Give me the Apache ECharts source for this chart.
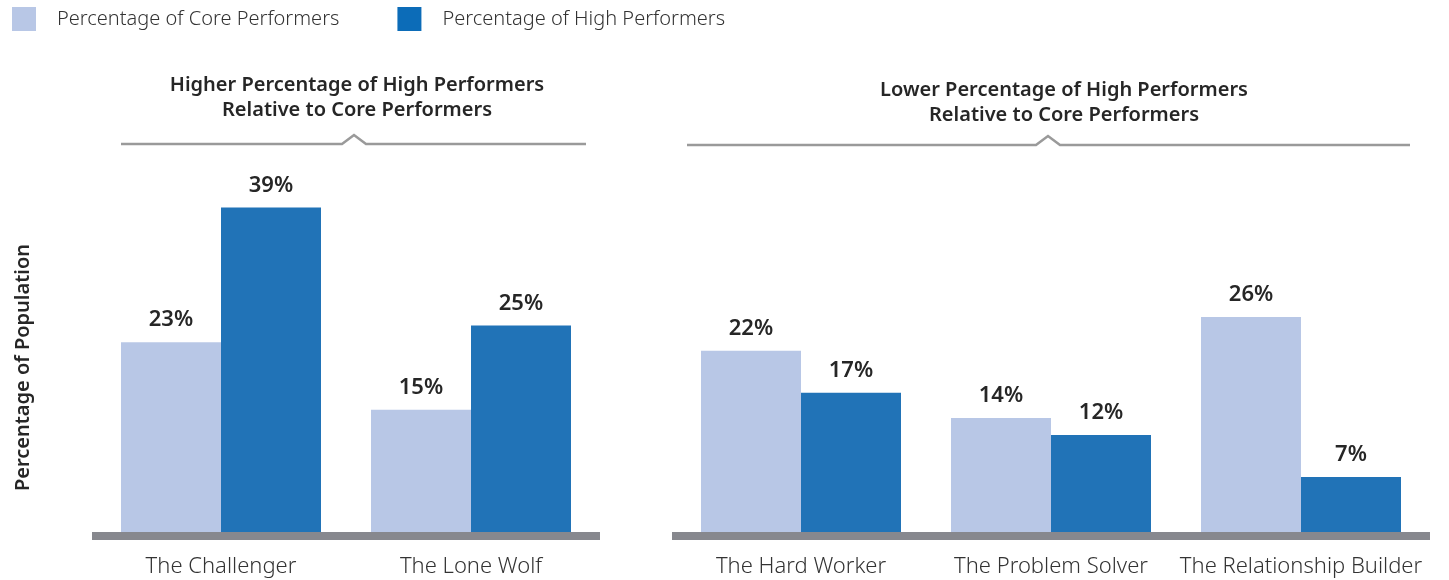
<!DOCTYPE html>
<html>
<head>
<meta charset="utf-8">
<script src="https://cdn.jsdelivr.net/npm/echarts@6/dist/echarts.min.js"></script>
<style>
  html, body { margin: 0; padding: 0; background: #ffffff; }
  #chart { width: 1449px; height: 580px; }
</style>
</head>
<body>
<div id="chart"></div>
<script>
// Performer profiles split into two groups
const higherGroupCategories = ['The Challenger', 'The Lone Wolf'];
const lowerGroupCategories = ['The Hard Worker', 'The Problem Solver', 'The Relationship Builder'];

// Share of each population (percent)
const coreHigherGroup = [23, 15];
const highHigherGroup = [39, 25];
const coreLowerGroup = [22, 14, 26];
const highLowerGroup = [17, 12, 7];

const seriesNames = ['Percentage of Core Performers', 'Percentage of High Performers'];
const groupTitles = [
  'Higher Percentage of High Performers\nRelative to Core Performers',
  'Lower Percentage of High Performers\nRelative to Core Performers'
];
const yAxisTitle = 'Percentage of Population';

const CORE_COLOR = '#b8c7e6';
const HIGH_COLOR = '#2173b7';
const FONT = '"Noto Sans", "Open Sans", sans-serif';

const chart = echarts.init(document.getElementById('chart'), null, { renderer: 'canvas' });

const labelStyle = {
  show: true,
  position: 'top',
  distance: 11,
  formatter: '{c}%',
  fontFamily: FONT,
  fontSize: 22,
  fontWeight: 600,
  color: '#262626'
};

function barSeries(name, data, idx, color) {
  return {
    name: name,
    type: 'bar',
    xAxisIndex: idx,
    yAxisIndex: idx,
    data: data,
    barWidth: 100,
    barGap: '0%',
    itemStyle: { color: color },
    label: labelStyle,
    z: 2
  };
}

function xAxis(idx, cats) {
  return {
    type: 'category',
    gridIndex: idx,
    data: cats,
    z: 5,
    axisLine: { show: true, lineStyle: { color: '#87888e', width: 8, cap: 'square' } },
    axisTick: { show: false },
    axisLabel: {
      interval: 0,
      hideOverlap: false,
      fontFamily: FONT,
      fontSize: 22,
      fontWeight: 300,
      color: '#333333',
      margin: 20
    }
  };
}

// Bracket under each group title with a small caret at the middle
function bracket(x1, x2, xc, y) {
  return {
    type: 'polyline',
    shape: { points: [[x1, y], [xc - 12, y], [xc, y - 9], [xc + 12, y], [x2, y]] },
    style: { stroke: '#9a9a9a', lineWidth: 2.5, fill: null },
    silent: true
  };
}

function groupTitle(text, x, y) {
  return {
    type: 'text',
    x: x,
    y: y,
    style: {
      text: text,
      align: 'center',
      verticalAlign: 'top',
      fontFamily: FONT,
      fontSize: 20,
      fontWeight: 600,
      lineHeight: 25,
      fill: '#262626'
    },
    silent: true
  };
}

const hiddenValueAxis = {
  axisLine: { show: false }, axisTick: { show: false },
  axisLabel: { show: false }, splitLine: { show: false }
};

const option = {
  animation: false,
  backgroundColor: '#ffffff',
  legend: {
    left: 12,
    top: 7,
    padding: 0,
    itemWidth: 24,
    itemHeight: 24,
    itemGap: 58,
    icon: 'rect',
    textStyle: {
      fontFamily: FONT,
      fontSize: 20,
      fontWeight: 300,
      color: '#333333',
      padding: [0, 0, 0, 16]
    },
    data: [
      { name: seriesNames[0], itemStyle: { color: CORE_COLOR } },
      { name: seriesNames[1], itemStyle: { color: '#0c6cb8' } }
    ]
  },
  grid: [
    { left: 96, width: 500, top: 199, height: 337 },
    { left: 676, width: 750, top: 199, height: 337 }
  ],
  xAxis: [xAxis(0, higherGroupCategories), xAxis(1, lowerGroupCategories)],
  yAxis: [
    Object.assign({
      type: 'value', gridIndex: 0, min: 0, max: 40,
      name: yAxisTitle, nameLocation: 'middle', nameGap: 63, nameRotate: 90,
      nameTextStyle: { fontFamily: FONT, fontSize: 20, fontWeight: 600, color: '#262626' }
    }, hiddenValueAxis),
    Object.assign({ type: 'value', gridIndex: 1, min: 0, max: 40 }, hiddenValueAxis)
  ],
  series: [
    barSeries(seriesNames[0], coreHigherGroup, 0, CORE_COLOR),
    barSeries(seriesNames[1], highHigherGroup, 0, HIGH_COLOR),
    barSeries(seriesNames[0], coreLowerGroup, 1, CORE_COLOR),
    barSeries(seriesNames[1], highLowerGroup, 1, HIGH_COLOR)
  ],
  graphic: [
    groupTitle(groupTitles[0], 357, 73),
    groupTitle(groupTitles[1], 1064, 78),
    bracket(121, 586, 354, 144),
    bracket(687, 1410, 1048, 145)
  ]
};

chart.setOption(option);
</script>
</body>
</html>
